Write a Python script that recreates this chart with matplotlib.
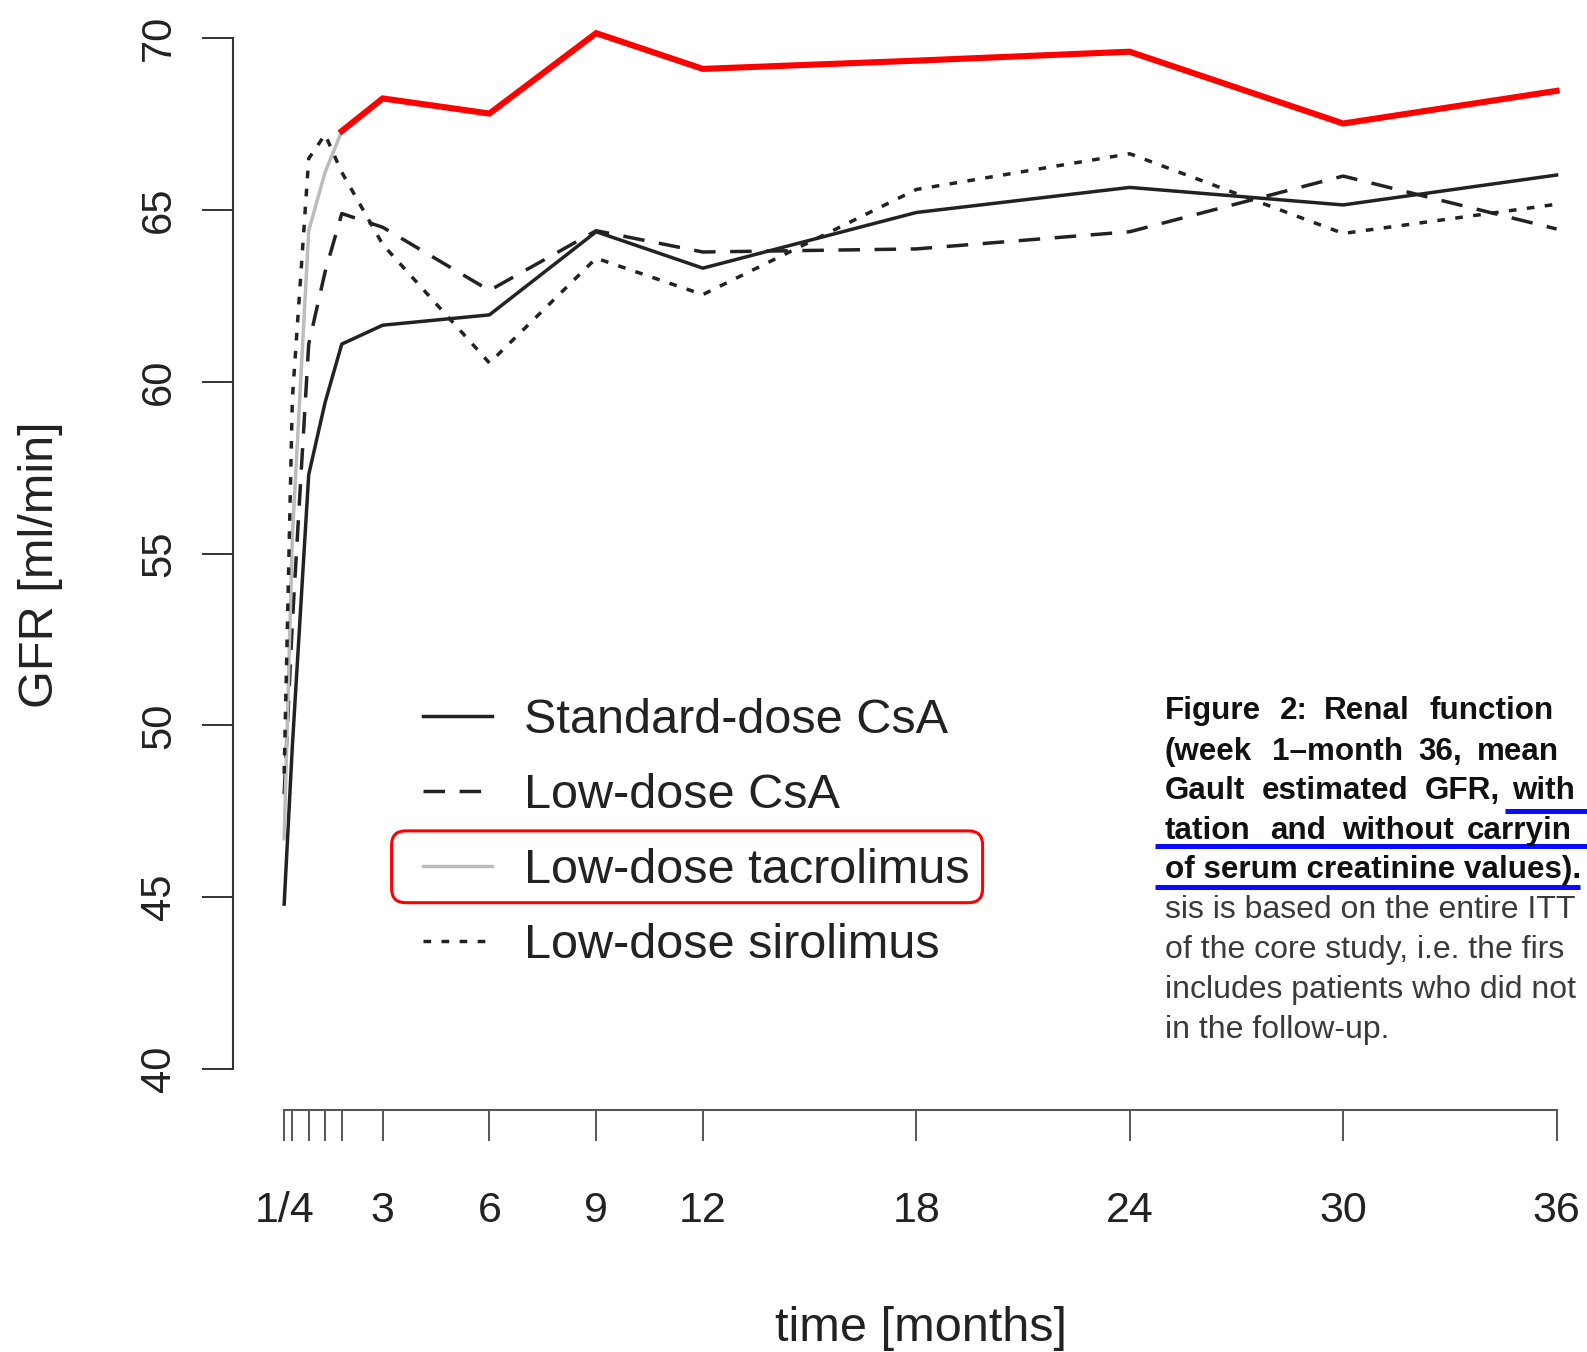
import matplotlib.pyplot as plt
from matplotlib.patches import FancyBboxPatch
from matplotlib.lines import Line2D

plt.rcParams['font.family'] = ['Liberation Sans', 'DejaVu Sans']

# time points in months (weeks 1, 2, 4, 6, 8, then months)
time_months = [0.23, 0.46, 0.92, 1.38, 1.85, 3, 6, 9, 12, 18, 24, 30, 36]
tick_labels = ['1/4', '', '', '', '', '3', '6', '9', '12', '18', '24', '30', '36']

std_csa = [44.8, 49.4, 57.3, 59.4, 61.1, 61.65, 61.95, 64.37, 63.31, 64.93, 65.66, 65.15, 66.02]
low_csa = [48.0, 53.0, 61.1, 63.2, 64.9, 64.5, 62.66, 64.4, 63.78, 63.87, 64.37, 65.99, 64.45]
low_tac = [46.7, 55.5, 64.4, 66.1, 67.3, 68.25, 67.81, 70.15, 69.11, 69.35, 69.61, 67.52, 68.47]
low_sir = [48.6, 59.5, 66.5, 67.2, 66.1, 64.0, 60.55, 63.6, 62.54, 65.6, 66.64, 64.32, 65.17]

series_names = ['Standard-dose CsA', 'Low-dose CsA', 'Low-dose tacrolimus', 'Low-dose sirolimus']
highlight_from = 4  # red overlay on tacrolimus from week 8 on

W, H = 1587, 1352
fig = plt.figure(figsize=(W / 100, H / 100), dpi=100)
ax = fig.add_axes([233.3 / W, 1 - 1110 / H, 1 - 233.3 / W, 1110 / H])

black = '#222222'
lw = 2.5
l1, = ax.plot(time_months, std_csa, color=black, lw=lw, label=series_names[0])
l2, = ax.plot(time_months, low_csa, color=black, lw=lw, ls=(0, (6.2, 4.2)), label=series_names[1])
l3, = ax.plot(time_months, low_tac, color='#bcbcc0', lw=lw, label=series_names[2])
l4, = ax.plot(time_months, low_sir, color=black, lw=lw, ls=(0, (2.2, 3.0)), label=series_names[3])
ax.plot(time_months[highlight_from:], low_tac[highlight_from:], color='#ff0000', lw=4.4,
        solid_joinstyle='miter')

ax.set_xlim(-1.20, 36.855)
ax.set_ylim(38.807, 71.115)

for s in ['top', 'right']:
    ax.spines[s].set_visible(False)
ax.spines['left'].set_bounds(40, 70)
ax.spines['bottom'].set_bounds(time_months[0], time_months[-1])
ax.spines['left'].set_color('#333333')
ax.spines['bottom'].set_color('#555555')
ax.spines['left'].set_linewidth(1.5)
ax.spines['bottom'].set_linewidth(1.5)

ax.set_yticks([40, 45, 50, 55, 60, 65, 70])
ax.set_yticklabels(['40', '45', '50', '55', '60', '65', '70'], rotation=90, va='center')
ax.set_xticks(time_months)
ax.set_xticklabels(tick_labels)
ax.tick_params(axis='y', length=22, width=1.4, color='#333333', pad=17, labelsize=30,
               labelcolor='#222222')
ax.tick_params(axis='x', length=22, width=1.4, color='#555555', pad=36, labelsize=31,
               labelcolor='#222222')

fig.text(41 / W, 1 - 565 / H, 'GFR [ml/min]', rotation=90, ha='center', va='center',
         fontsize=35, color='#222222')
fig.text(921 / W, 1 - 1341 / H, 'time [months]', ha='center', va='baseline',
         fontsize=35, color='#222222')

leg = ax.legend(handles=[l1, l2, l3, l4], loc='upper left',
                bbox_to_anchor=(423 / W, 1 - 698 / H), bbox_transform=fig.transFigure,
                frameon=False, fontsize=35, handlelength=1.42, handletextpad=0.66,
                labelspacing=0.62, borderpad=0, borderaxespad=0)
for t in leg.get_texts():
    t.set_color('#222222')

# red rounded box around the tacrolimus legend entry
box = FancyBboxPatch((391.6, H - 902.7), 591, 71.8, boxstyle='round,pad=0,rounding_size=14',
                     transform=None, fill=False, edgecolor='#ff0000', lw=2.2)
fig.add_artist(box)

# caption text on the right (only the part inside the picture)
bold_lines = [
    (['Figure', '2:', 'Renal', 'function'], [1165, 1280, 1324, 1430]),
    (['(week', '1\u2013month', '36,', 'mean'], [1165, 1272, 1418, 1477]),
    (['Gault', 'estimated', 'GFR,', 'with'], [1165, 1262, 1425, 1512]),
    (['tation', 'and', 'without', 'carryin'], [1165, 1270, 1342, 1467]),
    (['of serum creatinine values).'], [1165]),
]
normal_lines = [
    'sis is based on the entire ITT',
    'of the core study, i.e. the firs',
    'includes patients who did not',
    'in the follow-up.',
]
line_y = [708.4, 748.9, 788.4, 827.8, 867.3, 906.8, 947.2, 986.7, 1027.2]
for (words, xs), y in zip(bold_lines, line_y[:5]):
    for w, x in zip(words, xs):
        fig.text(x / W, 1 - (y + 11) / H, w, fontsize=22.6, fontweight='bold',
                 color='#111111', va='baseline', ha='left')
for txt, y in zip(normal_lines, line_y[5:]):
    fig.text(1165 / W, 1 - (y + 11) / H, txt, fontsize=23, color='#3a3a3a',
             va='baseline', ha='left')

# blue underlines
for x0, x1, y in [(1505, 1587, 811), (1155, 1587, 845.5), (1155, 1580, 886.7)]:
    fig.add_artist(Line2D([x0 / W, x1 / W], [1 - y / H, 1 - y / H], transform=fig.transFigure,
                          color='#0a0aff', lw=3.6, solid_capstyle='butt'))

fig.savefig('out.png', dpi=100)
